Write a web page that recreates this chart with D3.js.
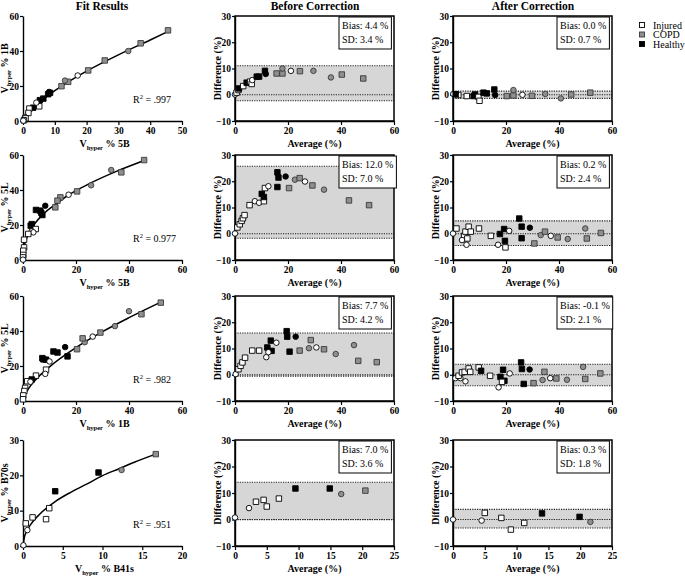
<!DOCTYPE html>
<html>
<head>
<meta charset="utf-8">
<script src="https://cdn.jsdelivr.net/npm/d3@7"></script>
<style>
  body { margin: 0; background: #fff; }
  text { font-family: "Liberation Serif", "DejaVu Serif", serif; font-weight: bold; }
  text.plain { font-weight: normal; }
</style>
</head>
<body>
<svg id="chart" width="685" height="581"></svg>
<script>
// ---- data: [x, y, group, shape]  group I=Injured C=COPD H=Healthy, shape s=square c=circle
const fit1Pts = [
  [45.6,51.8,"C","s"],[37.0,44.4,"C","s"],[33.1,40.0,"C","c"],[25.7,34.6,"C","s"],[20.5,28.9,"C","s"],
  [17.2,26.0,"I","c"],[14.2,22.4,"C","s"],[13.2,23.1,"C","c"],[12.1,19.9,"C","s"],[8.5,16.1,"H","s"],
  [7.9,15.3,"H","s"],[8.2,16.6,"H","c"],[6.4,12.8,"H","s"],[5.3,11.9,"H","s"],[3.2,7.6,"H","s"],
  [5.1,8.4,"I","s"],[2.0,7.1,"I","s"],[1.7,4.6,"I","s"],[4.2,10.5,"I","c"],[0.6,2.3,"I","c"],
  [0.8,1.5,"I","s"],[0.3,0.4,"I","s"],[0.1,0.2,"I","c"]
];
const fit1Curve = [[0,0],[2,5.5],[5,10.5],[10,17.3],[15,23.2],[20,28.5],[30,37.8],[40,46.3],[46,51.5]];

const fit2Pts = [
  [45.7,57.1,"C","s"],[37.1,50.1,"C","s"],[33.3,51.4,"C","c"],[25.7,42.7,"C","c"],[20.4,39.2,"C","s"],
  [17.2,37.3,"I","c"],[14.1,35.8,"C","s"],[13.0,33.9,"C","s"],[12.2,30.1,"C","s"],[8.4,31.0,"H","c"],
  [4.9,28.6,"H","s"],[6.5,28.2,"H","s"],[7.3,25.7,"H","s"],[6.9,27.0,"H","s"],[2.9,19.6,"H","s"],
  [3.3,20.5,"H","s"],[4.8,17.7,"I","s"],[3.3,16.4,"I","c"],[3.9,15.8,"I","c"],[2.0,14.9,"I","s"],
  [0.4,11.6,"I","s"],[0.4,7.2,"I","s"],[0.1,5.3,"I","s"],[0.1,2.9,"I","s"],[0.0,1.5,"I","s"],[0.0,0.2,"I","c"]
];
const fit2Curve = [[0.1,4],[0.5,8],[1,10.8],[2,14.6],[4,19.8],[8,26.7],[12,31.5],[17,37],[25,43.6],[35,50.5],[46,57]];

const fit3Pts = [
  [52.0,56.2,"C","s"],[44.7,49.6,"C","s"],[40.0,51.3,"C","c"],[34.7,42.8,"C","c"],[29.2,39.1,"C","s"],
  [26.3,36.8,"I","c"],[23.3,33.6,"C","c"],[22.5,35.8,"C","s"],[20.4,29.6,"C","s"],[15.9,30.8,"H","c"],
  [16.8,25.5,"H","s"],[11.5,28.3,"H","s"],[13.0,27.7,"H","s"],[7.3,24.5,"H","s"],[7.7,23.8,"H","s"],
  [8.7,23.6,"H","s"],[10.0,22.6,"I","c"],[8.7,17.9,"I","s"],[8.4,15.5,"I","c"],[4.9,14.5,"I","s"],
  [3.3,12.3,"H","s"],[1.6,11.3,"I","s"],[2.8,11.0,"I","c"],[0.8,7.5,"I","s"],[0.5,5.7,"I","s"],
  [0.1,3.2,"I","s"],[0.0,1.0,"I","s"]
];
const fit3Curve = [[0.1,1.0],[0.5,2.8],[1,4.4],[2,6.9],[5,12.5],[10,19.5],[20,30.5],[30,39.6],[40,47.6],[52,56.5]];

const fit4Pts = [
  [16.7,26.0,"C","s"],[12.4,21.5,"C","c"],[9.5,20.8,"H","s"],[4.05,15.5,"H","s"],[3.3,10.7,"I","s"],
  [2.9,7.6,"I","s"],[1.2,8.1,"I","s"],[0.35,6.4,"I","s"],[0.55,4.5,"I","c"],[0.05,0.2,"I","c"]
];
const fit4Curve = [[0,0],[0.2,2.7],[0.5,4.3],[1,6.2],[2,8.8],[4,12.5],[6,15.2],[8,17.5],[10,19.9],[12,21.8],[14,23.7],[16.7,26]];

const before1 = [
  [0,0.1,"I","c"],[0.6,0.8,"I","s"],[1.3,1.8,"I","s"],[1.5,2.4,"H","s"],[3.1,3.3,"I","s"],[4.4,4.6,"H","s"],
  [5.7,5.0,"I","s"],[6.3,4.1,"I","s"],[6.5,5.6,"I","c"],[8.2,6.9,"H","s"],[9.1,6.9,"H","s"],[11.3,9.1,"H","s"],
  [11.6,7.9,"H","c"],[15.7,8.1,"C","s"],[17.9,8.1,"C","s"],[17.9,10.0,"C","c"],[21.1,9.1,"I","c"],
  [24.5,9.0,"C","s"],[29.6,9.1,"C","c"],[36.2,6.6,"C","c"],[40.3,7.7,"C","s"],[48.4,6.2,"C","s"]
];
const after1 = [
  [0.1,0.3,"I","c"],[2.0,-0.1,"I","s"],[5.2,-0.5,"I","s"],[1.0,0.2,"H","s"],[8.3,0.1,"H","s"],[7.8,-0.5,"H","s"],
  [9.6,-0.8,"I","s"],[10.0,-2.3,"I","s"],[11.5,0.8,"H","s"],[12.7,0.5,"H","s"],[15.6,2.0,"H","s"],[15.9,-0.1,"H","c"],
  [20.3,-0.5,"C","s"],[22.8,-0.3,"C","s"],[22.8,1.8,"C","c"],[26.2,0,"I","c"],[29.8,-0.4,"C","s"],
  [34.8,0.3,"C","c"],[40.7,-1.4,"C","c"],[44.6,0.1,"C","s"],[51.8,0.8,"C","s"]
];
const before2 = [
  [0,0.1,"I","c"],[0.9,2.4,"I","s"],[1.8,3.6,"I","s"],[2.5,4.9,"I","s"],[3.0,5.9,"I","s"],[3.6,7.1,"I","s"],
  [5.5,10.9,"I","s"],[7.5,12.4,"I","c"],[9.1,11.8,"I","c"],[10.9,12.4,"I","s"],[10.1,15.2,"H","s"],
  [10.9,14.0,"H","s"],[11.3,17.4,"I","s"],[12.6,18.1,"I","c"],[16.0,23.4,"H","s"],[16.4,21.4,"H","s"],
  [16.0,17.8,"H","s"],[19.1,21.8,"H","c"],[20.4,17.4,"C","s"],[22.6,20.6,"C","c"],[24.4,21.2,"C","s"],
  [26.4,19.9,"I","c"],[29.2,18.4,"C","s"],[33.6,16.8,"C","c"],[43.0,12.7,"C","s"],[50.6,10.9,"C","s"]
];
const after2 = [
  [0,0.1,"I","c"],[1.3,2.0,"I","s"],[4.2,-0.8,"I","s"],[4.7,0.8,"I","s"],[5.4,-1.8,"I","s"],[5.9,2.7,"I","s"],
  [6.7,0.8,"I","s"],[3.4,-2.4,"I","c"],[5.1,-4.2,"I","c"],[9.8,2.0,"I","s"],[14.3,-0.8,"I","s"],[17.0,-4.2,"I","c"],
  [17.7,-0.1,"H","s"],[19.3,1.8,"H","s"],[19.6,-2.7,"H","s"],[19.8,-5.2,"I","s"],[21.2,1.1,"I","c"],
  [25.0,5.8,"H","s"],[25.9,2.7,"H","s"],[25.9,-1.7,"H","s"],[29.0,2.3,"H","c"],[30.7,-3.7,"C","s"],
  [33.1,-0.5,"C","c"],[34.7,0.8,"C","s"],[36.9,-0.8,"I","c"],[39.5,-1.4,"C","s"],[43.3,-2.0,"C","c"],
  [49.9,2.0,"C","c"],[50.5,-1.8,"C","s"],[55.8,0.3,"C","s"]
];
const before3 = [
  [0.25,0.25,"I","c"],[1.3,2.1,"I","s"],[2.1,3.4,"I","s"],[2.8,4.7,"I","s"],[3.8,6.5,"I","s"],[6.5,9.2,"I","s"],
  [9.1,9.2,"I","s"],[11.8,6.7,"I","c"],[12.2,10.4,"H","s"],[13.8,9.1,"H","s"],[13.5,13.0,"H","s"],
  [12.6,8.6,"I","c"],[15.6,12.2,"I","c"],[19.5,16.6,"H","s"],[19.7,14.5,"H","s"],[20.6,8.8,"H","s"],
  [22.9,14.5,"H","c"],[24.4,9.2,"C","s"],[28.6,13.2,"C","s"],[27.9,10.1,"C","c"],[30.7,10.4,"I","c"],
  [33.6,9.7,"C","s"],[38.0,7.9,"C","c"],[44.9,11.3,"C","c"],[46.5,5.3,"C","s"],[53.5,4.8,"C","s"]
];
const after3 = [
  [0.9,-1.3,"I","c"],[2.8,-1.3,"I","c"],[4.7,-2.5,"I","c"],[2.1,-0.4,"I","s"],[3.4,0.9,"I","s"],[4.4,1.1,"I","s"],
  [5.9,2.4,"I","s"],[6.5,1.1,"I","s"],[9.7,2.8,"I","s"],[10.6,1.5,"H","s"],[14.0,-0.4,"I","s"],[17.2,-4.8,"I","c"],
  [17.9,-0.8,"H","s"],[18.9,1.9,"H","s"],[19.4,-2.3,"H","s"],[18.5,-2.7,"I","s"],[21.4,0.5,"I","c"],
  [25.7,4.7,"H","s"],[26.0,2.2,"H","s"],[26.7,-3.5,"H","s"],[28.9,2.0,"H","c"],[30.4,-3.2,"C","s"],
  [33.8,-2.0,"C","c"],[34.5,1.1,"C","s"],[36.7,-1.3,"I","c"],[39.0,-1.4,"C","s"],[43.0,-1.9,"C","c"],
  [49.1,3.0,"C","c"],[49.9,-1.6,"C","s"],[55.6,0.5,"C","s"]
];
const before4 = [
  [0,0.75,"I","c"],[2.2,4.3,"I","c"],[3.3,6.7,"I","s"],[4.5,7.4,"I","s"],[5.0,4.9,"I","s"],[6.9,7.9,"I","s"],
  [9.5,11.7,"H","s"],[14.9,11.7,"H","s"],[16.7,9.6,"C","c"],[20.5,10.9,"C","s"]
];
const after4 = [
  [0,0,"I","c"],[4.5,-0.4,"I","c"],[5.0,2.5,"I","s"],[7.6,0.6,"I","s"],[9.1,-3.8,"I","s"],[11.2,-1.3,"I","s"],
  [14.0,2.3,"H","s"],[19.9,1.0,"H","s"],[21.6,-0.9,"C","c"]
];

// bias and SD per panel (before, after) for each row
const biasBefore = [4.4, 12.0, 7.7, 7.0];
const sdBefore   = [3.4, 7.0, 4.2, 3.6];
const biasAfter  = [0.0, 0.2, -0.1, 0.3];
const sdAfter    = [0.7, 2.4, 2.1, 1.8];
const r2Labels   = [".997", "0.977", ".982", ".951"];
const fitYNames  = ["1B", "5L", "5L", "B70s"];
const fitXNames  = ["5B", "5B", "1B", "B41s"];
const legendNames = ["Injured", "COPD", "Healthy"];
const legendKeys  = ["I", "C", "H"];

// ---- layout
const svg = d3.select("#chart");
const rowsY = [[16,121],[155,260],[296,401],[440,546]];
const colFit = [23,182], colBefore = [235,394], colAfter = [453,612];
const fillOf = {I: "#fff", C: "#8f8f8f", H: "#000"};
const strokeOf = {I: "#000", C: "#3a3a3a", H: "#000"};
const FONT = "Liberation Serif";

function styleAxis(g) {
  g.attr("font-family", FONT).attr("font-size", 9.5);
  g.selectAll(".tick line").attr("stroke-width", 1.2);
  g.select(".domain").attr("stroke-width", 1.4);
}

function drawPoints(g, pts, x, y) {
  g.append("g").selectAll("path").data(pts).join("path")
    .attr("d", d => d3.symbol(d[3] === "s" ? d3.symbolSquare : d3.symbolCircle, d[3] === "s" ? 30 : 24)())
    .attr("transform", d => `translate(${x(d[0])},${y(d[1])})`)
    .attr("fill", d => fillOf[d[2]])
    .attr("stroke", d => strokeOf[d[2]])
    .attr("stroke-width", 0.9);
}

// label like "V_hyper % 5B"
function vLabel(t, name) {
  t.append("tspan").text("V");
  t.append("tspan").attr("font-size", 6.5).attr("dy", 3).text("hyper");
  t.append("tspan").attr("dy", -3).text(" % " + name);
}

function fitPanel(row, pts, curve, xMax, yMax, xStep, yStep) {
  const [top, bot] = rowsY[row];
  const x = d3.scaleLinear().domain([0, xMax]).range(colFit);
  const y = d3.scaleLinear().domain([0, yMax]).range([bot, top]);
  const g = svg.append("g");
  g.append("g").attr("transform", `translate(0,${bot})`)
    .call(d3.axisBottom(x).tickValues(d3.range(0, xMax + 0.01, xStep)).tickSize(4).tickSizeOuter(0).tickPadding(2))
    .call(styleAxis);
  g.append("g").attr("transform", `translate(${colFit[0]},0)`)
    .call(d3.axisLeft(y).tickValues(d3.range(0, yMax + 0.01, yStep)).tickSize(3).tickSizeOuter(0).tickPadding(1))
    .call(styleAxis);
  g.append("path").datum(curve)
    .attr("d", d3.line().x(d => x(d[0])).y(d => y(d[1])).curve(d3.curveMonotoneX))
    .attr("fill", "none").attr("stroke", "#000").attr("stroke-width", 1.5);
  drawPoints(g, pts, x, y);

  const r2 = g.append("text").attr("class", "plain").attr("x", colFit[0] + 110).attr("y", bot - 18)
    .attr("font-size", 10);
  r2.append("tspan").text("R");
  r2.append("tspan").attr("font-size", 6.5).attr("dy", -4).text("2");
  r2.append("tspan").attr("dy", 4).text(" = " + r2Labels[row]);

  vLabel(g.append("text").attr("x", (colFit[0] + colFit[1]) / 2 + 2).attr("y", bot + 26)
    .attr("text-anchor", "middle").attr("font-size", 10), fitXNames[row]);
  vLabel(g.append("text").attr("transform", `translate(8,${(top + bot) / 2}) rotate(-90)`)
    .attr("text-anchor", "middle").attr("font-size", 10), fitYNames[row]);
}

function baPanel(row, cols, pts, xMax, xStep, bias, sd) {
  const [top, bot] = rowsY[row];
  const x = d3.scaleLinear().domain([0, xMax]).range(cols);
  const y = d3.scaleLinear().domain([-10, 30]).range([bot, top]);
  const g = svg.append("g");
  const hi = bias + 1.96 * sd, lo = bias - 1.96 * sd;

  g.append("rect").attr("x", cols[0]).attr("width", cols[1] - cols[0])
    .attr("y", y(hi)).attr("height", y(lo) - y(hi)).attr("fill", "#d6d6d6");
  g.selectAll("line.lim").data([hi, 0, lo]).join("line")
    .attr("x1", cols[0]).attr("x2", cols[1]).attr("y1", d => y(d)).attr("y2", d => y(d))
    .attr("stroke", "#222").attr("stroke-width", 1.1).attr("stroke-dasharray", "1.2,1.2");

  g.append("g").attr("transform", `translate(0,${bot})`)
    .call(d3.axisBottom(x).tickValues(d3.range(0, xMax + 0.01, xStep)).tickSize(4).tickSizeOuter(0).tickPadding(2))
    .call(styleAxis);
  g.append("g").attr("transform", `translate(${cols[0]},0)`)
    .call(d3.axisLeft(y).tickValues([-10, 0, 10, 20, 30]).tickSize(3).tickSizeOuter(0).tickPadding(1))
    .call(styleAxis);
  g.append("rect").attr("x", cols[0]).attr("y", top).attr("width", cols[1] - cols[0]).attr("height", bot - top)
    .attr("fill", "none").attr("stroke", "#000").attr("stroke-width", 1.5);

  drawPoints(g, pts, x, y);

  // stats box
  const bx = cols[0] + 104, by = top + 1;
  const box = g.append("g");
  const t1 = box.append("text").attr("class", "plain").attr("x", bx + 3).attr("y", by + 12)
    .attr("font-size", 10).text(`Bias: ${bias.toFixed(1)} %`);
  box.append("text").attr("class", "plain").attr("x", bx + 3).attr("y", by + 26)
    .attr("font-size", 10).text(`SD: ${sd.toFixed(1)} %`);
  const w = t1.node().getComputedTextLength() + 6;
  box.insert("rect", "text").attr("x", bx).attr("y", by).attr("width", w).attr("height", 32)
    .attr("fill", "#fff").attr("stroke", "#000").attr("stroke-width", 1);

  g.append("text").attr("x", (cols[0] + cols[1]) / 2).attr("y", bot + 26)
    .attr("text-anchor", "middle").attr("font-size", 10).text("Average (%)");
  g.append("text").attr("transform", `translate(${cols[0] - 14},${(top + bot) / 2}) rotate(-90)`)
    .attr("text-anchor", "middle").attr("font-size", 10).text("Difference (%)");
}

// titles
[["Fit Results", 102], ["Before Correction", 315], ["After Correction", 533]].forEach(([t, cx]) =>
  svg.append("text").attr("x", cx).attr("y", 10).attr("text-anchor", "middle").attr("font-size", 11.5).text(t));

fitPanel(0, fit1Pts, fit1Curve, 50, 60, 10, 20);
fitPanel(1, fit2Pts, fit2Curve, 60, 60, 20, 20);
fitPanel(2, fit3Pts, fit3Curve, 60, 60, 20, 20);
fitPanel(3, fit4Pts, fit4Curve, 20, 30, 5, 10);

const beforeSets = [before1, before2, before3, before4];
const afterSets = [after1, after2, after3, after4];
[0, 1, 2, 3].forEach(r => {
  const xMax = r === 3 ? 25 : 60, step = r === 3 ? 5 : 20;
  baPanel(r, colBefore, beforeSets[r], xMax, step, biasBefore[r], sdBefore[r]);
  baPanel(r, colAfter, afterSets[r], xMax, step, biasAfter[r], sdAfter[r]);
});

// legend
const leg = svg.append("g");
legendNames.forEach((n, i) => {
  const yy = 25 + i * 9.5;
  leg.append("rect").attr("x", 639.5).attr("y", yy - 2.5).attr("width", 5).attr("height", 5)
    .attr("fill", fillOf[legendKeys[i]]).attr("stroke", strokeOf[legendKeys[i]]).attr("stroke-width", 0.9);
  leg.append("text").attr("class", "plain").attr("x", 653).attr("y", yy + 3.5).attr("font-size", 10).text(n);
});
</script>
</body>
</html>
